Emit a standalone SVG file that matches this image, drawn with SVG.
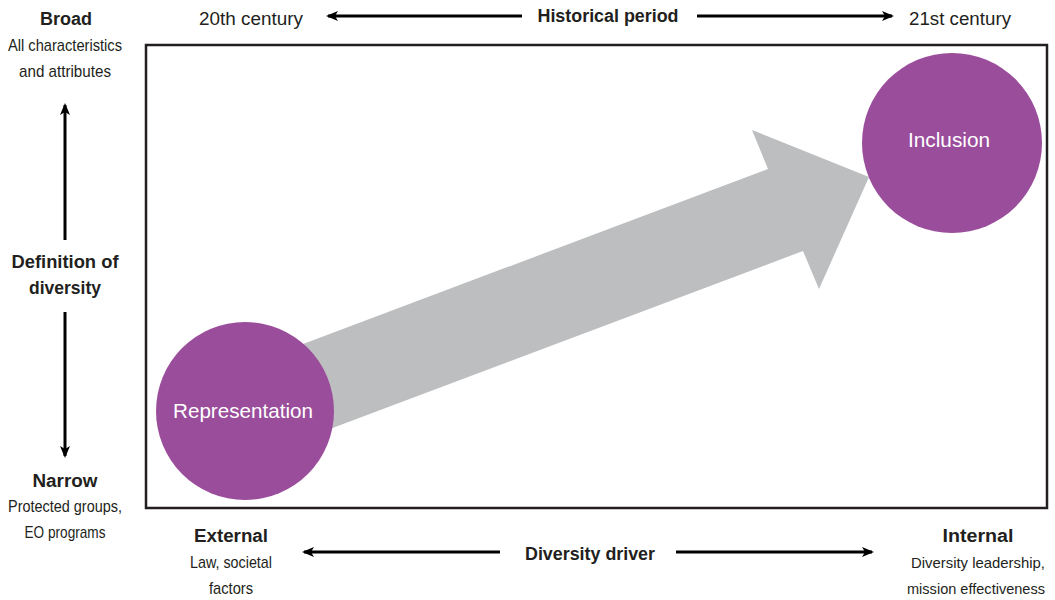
<svg xmlns="http://www.w3.org/2000/svg" width="1055" height="600" viewBox="0 0 1055 600">
<defs>
<style>
text{font-family:"Liberation Sans",Arial,sans-serif;fill:#231f20;text-anchor:middle}
.b{font-weight:bold;font-size:18px}
.r{font-size:17px}
.s{font-size:15px}
.h{font-size:18px}
.w{fill:#ffffff;font-size:21px}
.ax{stroke:#000;stroke-width:3;fill:none;marker-end:url(#ah)}
.node{fill:#9a4d9b}
</style>
<marker id="ah" viewBox="0 0 12 10" refX="10" refY="5" markerWidth="12" markerHeight="10" markerUnits="userSpaceOnUse" orient="auto">
<path d="M0,0 L12,5 L0,10 L3,5 Z" fill="#000"/>
</marker>
</defs>
<rect x="146" y="45" width="901" height="463" fill="#fff" stroke="#231f20" stroke-width="2.5"/>
<g id="connectors">
<polygon id="big-arrow" points="250,364 768,169 752,130 869,177 819,289 803,251 250,459" fill="#bcbec0"/>
<line class="ax" x1="522" y1="16" x2="328" y2="16"/>
<line class="ax" x1="697" y1="16" x2="892" y2="16"/>
<line class="ax" x1="65" y1="240" x2="65" y2="105"/>
<line class="ax" x1="65" y1="312" x2="65" y2="456"/>
<line class="ax" x1="500" y1="552" x2="304" y2="552"/>
<line class="ax" x1="676" y1="552" x2="872" y2="552"/>
</g>
<g id="representation">
<circle class="node" cx="245" cy="411" r="89"/>
<text class="w" x="243" y="418" textLength="140" lengthAdjust="spacingAndGlyphs">Representation</text>
</g>
<g id="inclusion">
<circle class="node" cx="952" cy="143" r="90"/>
<text class="w" x="949" y="147" textLength="82" lengthAdjust="spacingAndGlyphs">Inclusion</text>
</g>
<g id="broad">
<text class="b" x="66" y="25" textLength="52" lengthAdjust="spacingAndGlyphs">Broad</text>
<text class="r" x="65" y="51" textLength="114" lengthAdjust="spacingAndGlyphs">All characteristics</text>
<text class="r" x="65" y="77" textLength="92" lengthAdjust="spacingAndGlyphs">and attributes</text>
</g>
<g id="definition">
<text class="b" x="65" y="268" textLength="107" lengthAdjust="spacingAndGlyphs">Definition of</text>
<text class="b" x="65" y="294" textLength="72" lengthAdjust="spacingAndGlyphs">diversity</text>
</g>
<g id="narrow">
<text class="b" x="65" y="487" textLength="65" lengthAdjust="spacingAndGlyphs">Narrow</text>
<text class="r" x="65" y="512" textLength="114" lengthAdjust="spacingAndGlyphs">Protected groups,</text>
<text class="r" x="65" y="538" textLength="81" lengthAdjust="spacingAndGlyphs">EO programs</text>
</g>
<g id="period">
<text class="h" x="251" y="25" textLength="104" lengthAdjust="spacingAndGlyphs">20th century</text>
<text class="b" x="608" y="22" textLength="141" lengthAdjust="spacingAndGlyphs">Historical period</text>
<text class="h" x="960" y="25" textLength="102" lengthAdjust="spacingAndGlyphs">21st century</text>
</g>
<g id="driver">
<text class="b" x="231" y="542" textLength="74" lengthAdjust="spacingAndGlyphs">External</text>
<text class="r" x="231" y="568" textLength="82" lengthAdjust="spacingAndGlyphs">Law, societal</text>
<text class="r" x="231" y="594" textLength="44" lengthAdjust="spacingAndGlyphs">factors</text>
<text class="b" x="590" y="560" textLength="130" lengthAdjust="spacingAndGlyphs">Diversity driver</text>
<text class="b" x="978" y="542" textLength="71" lengthAdjust="spacingAndGlyphs">Internal</text>
<text class="s" x="978" y="568" textLength="134" lengthAdjust="spacingAndGlyphs">Diversity leadership,</text>
<text class="s" x="976" y="594" textLength="138" lengthAdjust="spacingAndGlyphs">mission effectiveness</text>
</g>
</svg>
